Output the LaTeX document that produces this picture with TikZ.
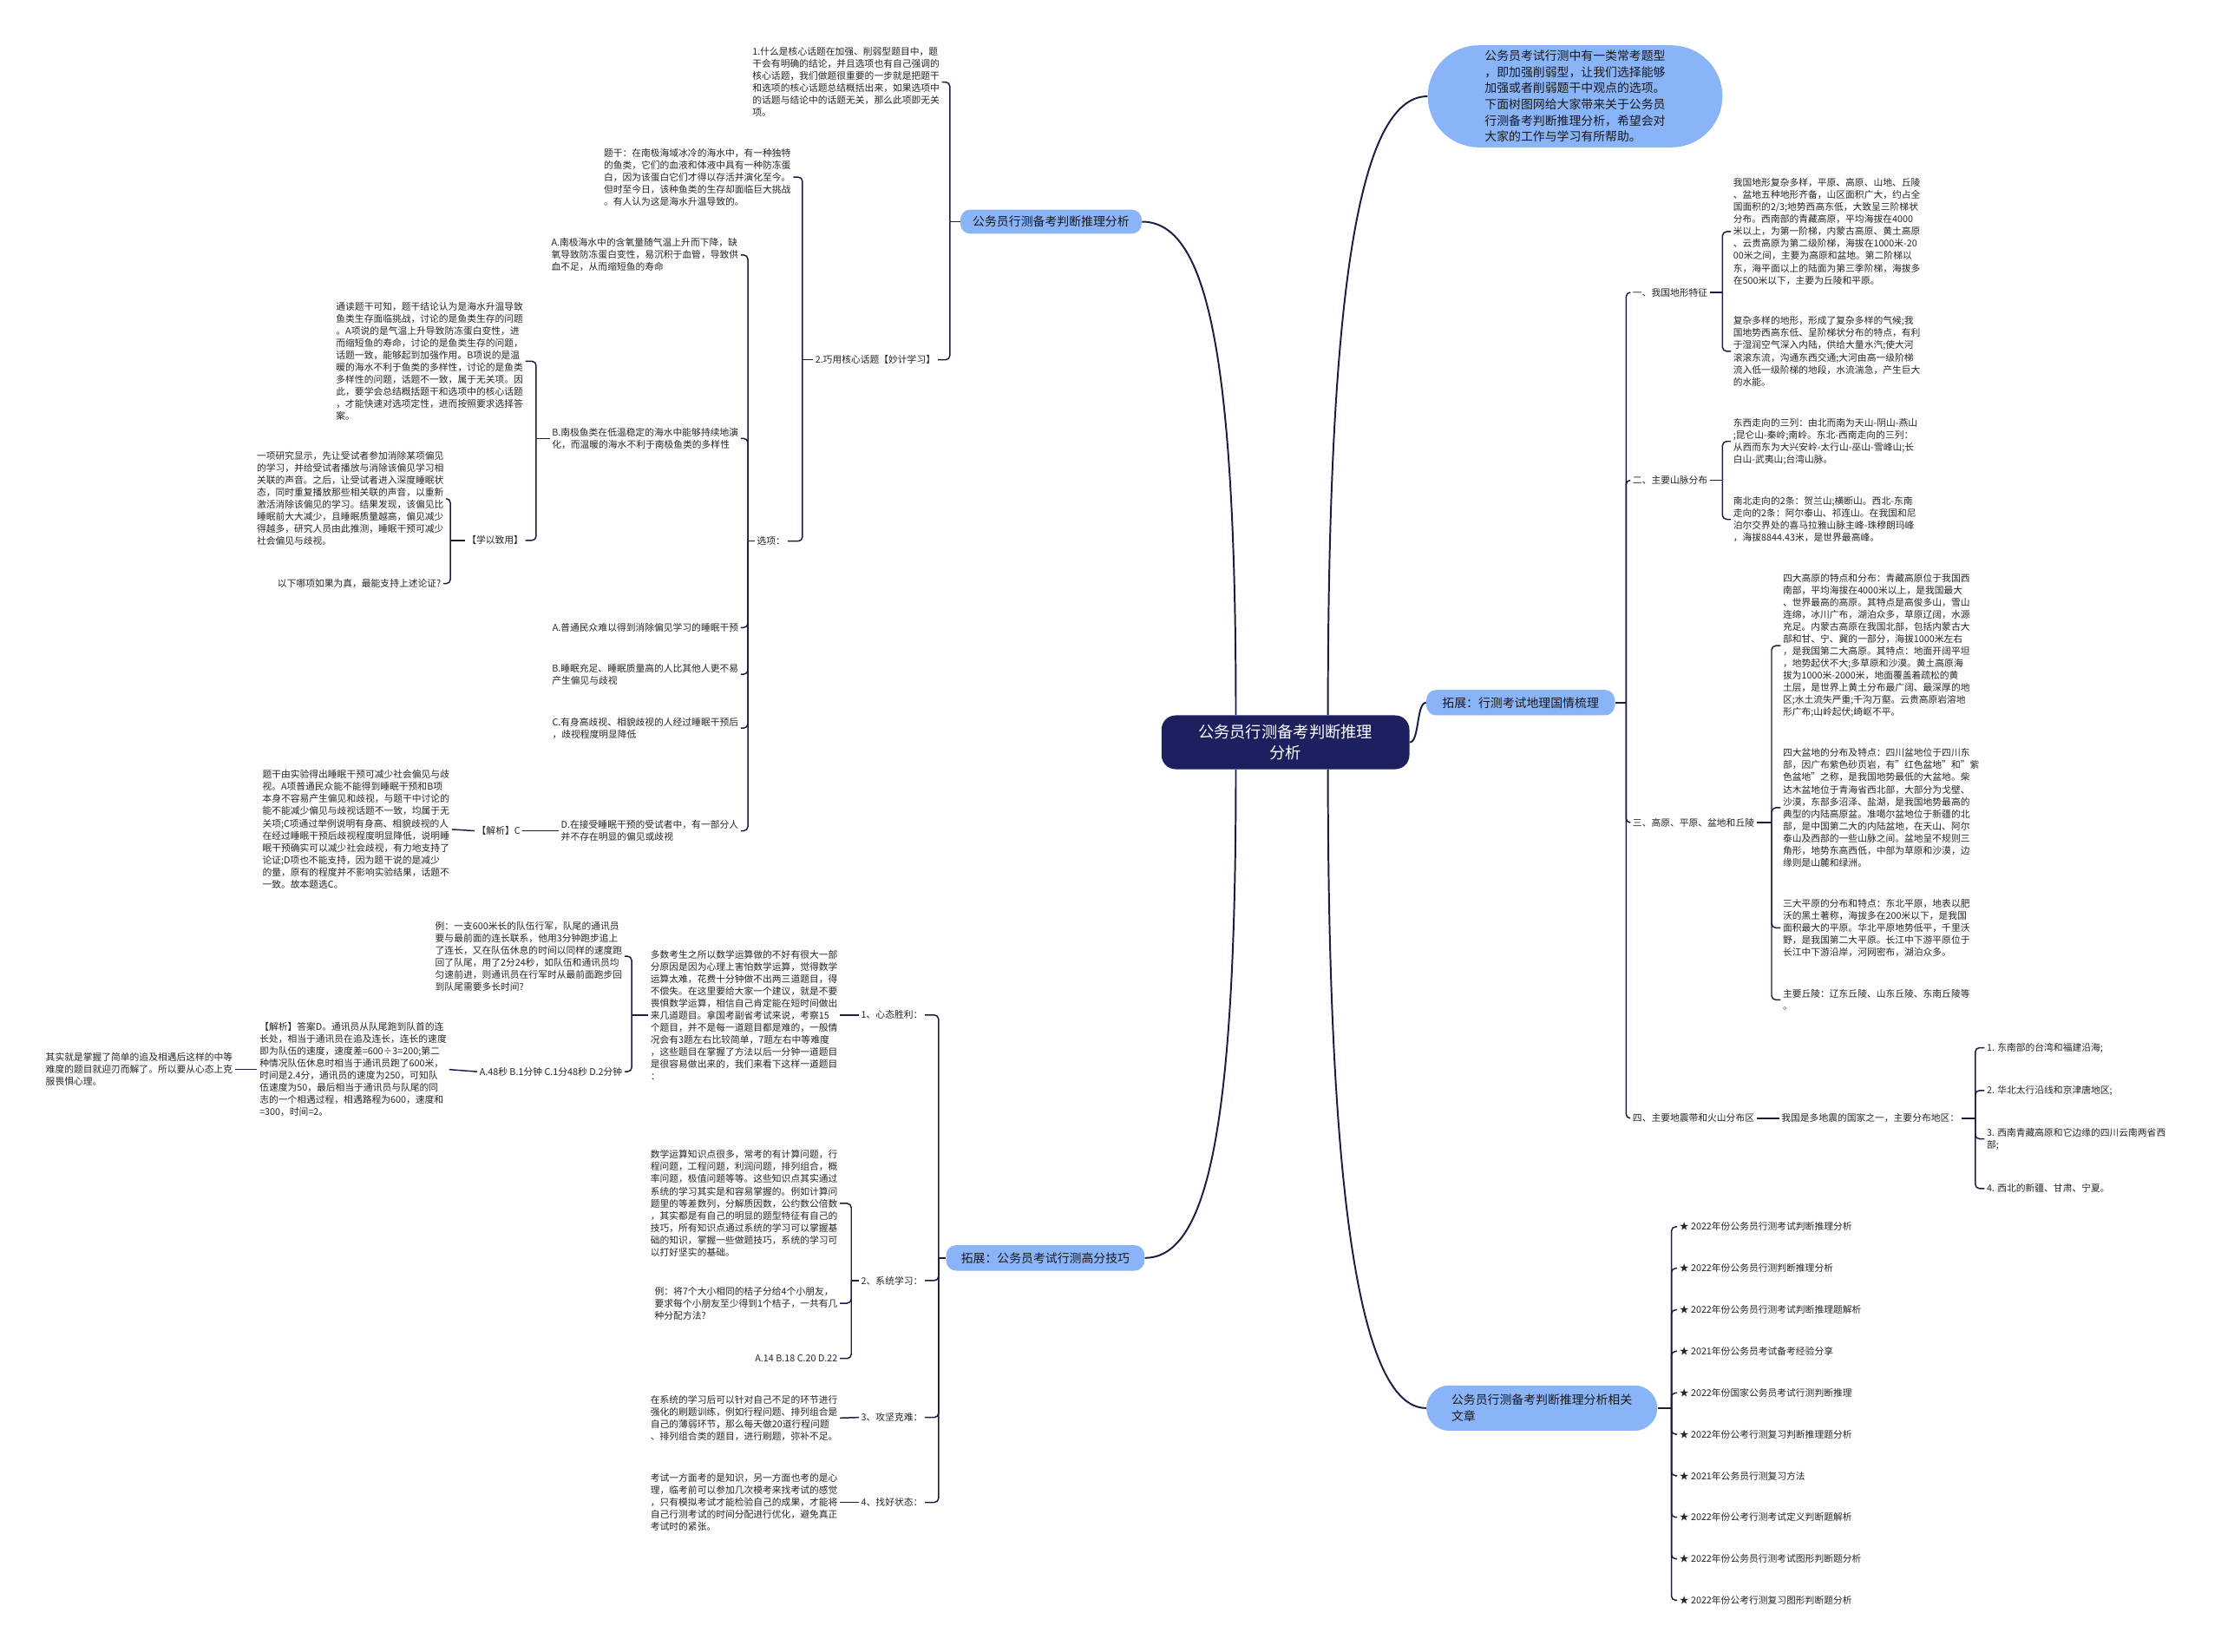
\documentclass[tikz,border=0pt]{standalone}
\usepackage{fontspec}
\setmainfont{Noto Sans CJK SC}
\usepackage{tikz}
\usetikzlibrary{positioning, calc}
\definecolor{mapnavy}{RGB}{28, 32, 94}
\definecolor{mapline}{RGB}{26, 30, 66}
\definecolor{mapblue}{RGB}{138, 180, 248}

\begin{document}
\begin{tikzpicture}[x=1pt, y=-1pt,
  txt/.style={font=\fontsize{6.6}{8.6}\selectfont, align=left, inner sep=1.5pt, text=black!85},
  topic/.style={fill=mapblue, rounded corners=7pt, font=\fontsize{8.5}{11.4}\selectfont, inner sep=0pt, text=black!90},
  link/.style={draw=mapline, line width=0.9pt, rounded corners=3pt},
  trunk/.style={draw=mapline, line width=1.2pt}]
\useasboundingbox[fill=white] (0,0) rectangle (1568,1166);

\node[fill=mapnavy, rounded corners=10pt, text=white, font=\fontsize{11.2}{15}\selectfont, minimum width=175pt, minimum height=38pt, align=center] (root) at (907.5,524)
  {公务员行测备考判断推理\\分析};

\node[topic, minimum width=128pt, minimum height=17pt] (b1) at (742,156.5) {公务员行测备考判断推理分析};
\node[topic, rounded corners=36pt, minimum width=208pt, minimum height=72pt, align=left] (intro) at (1112,68)
  {公务员考试行测中有一类常考题型\\
   ，即加强削弱型，让我们选择能够\\
   加强或者削弱题干中观点的选项。\\
   下面树图网给大家带来关于公务员\\
   行测备考判断推理分析，希望会对\\
   大家的工作与学习有所帮助。};
\node[topic, minimum width=133pt, minimum height=18pt] (b3) at (1073.5,496) {拓展：行测考试地理国情梳理};
\node[topic, minimum width=140pt, minimum height=18pt] (b4) at (738,888) {拓展：公务员考试行测高分技巧};
\node[topic, rounded corners=16pt, minimum width=163pt, minimum height=32pt, align=left] (b5) at (1088.5,994)
  {公务员行测备考判断推理分析相关\\文章};

\draw[trunk] ($(root.north)+(-35,0)$) .. controls +(0,-260) and +(45,0) .. (b1.east);
\draw[trunk] ($(root.north)+(30,0)$) .. controls +(0,-290) and +(-50,0) .. (intro.west);
\draw[trunk] (root.east) .. controls +(7,0) and +(-7,0) .. (b3.west);
\draw[trunk] ($(root.south)+(-35,0)$) .. controls +(0,250) and +(45,0) .. (b4.east);
\draw[trunk] ($(root.south)+(30,0)$) .. controls +(0,280) and +(-50,0) .. (b5.west);

\node[txt, anchor=east] (t1) at (665,58)
  {1.什么是核心话题在加强、削弱型题目中，题\\
   干会有明确的结论，并且选项也有自己强调的\\
   核心话题，我们做题很重要的一步就是把题干\\
   和选项的核心话题总结概括出来，如果选项中\\
   的话题与结论中的话题无关，那么此项即无关\\
   项。};
\node[txt, anchor=east] (t2) at (662,254) {2.巧用核心话题【妙计学习】};
\node[txt, anchor=east] (q1) at (560,125)
  {题干：在南极海域冰冷的海水中，有一种独特\\
   的鱼类，它们的血液和体液中具有一种防冻蛋\\
   白，因为该蛋白它们才得以存活并演化至今。\\
   但时至今日，该种鱼类的生存却面临巨大挑战\\
   。有人认为这是海水升温导致的。};
\node[txt, anchor=east] (opt) at (556,382) {选项：};
\node[txt, anchor=east] (oA) at (523,180)
  {A.南极海水中的含氧量随气温上升而下降，缺\\
   氧导致防冻蛋白变性，易沉积于血管，导致供\\
   血不足，从而缩短鱼的寿命};
\node[txt, anchor=east] (oB) at (523,309.5)
  {B.南极鱼类在低温稳定的海水中能够持续地演\\
   化，而温暖的海水不利于南极鱼类的多样性};
\node[txt, anchor=east] (pA) at (523,443) {A.普通民众难以得到消除偏见学习的睡眠干预};
\node[txt, anchor=east] (pB) at (523,476)
  {B.睡眠充足、睡眠质量高的人比其他人更不易\\
   产生偏见与歧视};
\node[txt, anchor=east] (pC) at (523,514)
  {C.有身高歧视、相貌歧视的人经过睡眠干预后\\
   ，歧视程度明显降低};
\node[txt, anchor=east] (pD) at (523,586.5)
  {D.在接受睡眠干预的受试者中，有一部分人\\
   并不存在明显的偏见或歧视};
\node[txt, anchor=east] (ana1) at (371,255)
  {通读题干可知，题干结论认为是海水升温导致\\
   鱼类生存面临挑战，讨论的是鱼类生存的问题\\
   。A项说的是气温上升导致防冻蛋白变性，进\\
   而缩短鱼的寿命，讨论的是鱼类生存的问题，\\
   话题一致，能够起到加强作用。B项说的是温\\
   暖的海水不利于鱼类的多样性，讨论的是鱼类\\
   多样性的问题，话题不一致，属于无关项。因\\
   此，要学会总结概括题干和选项中的核心话题\\
   ，才能快速对选项定性，进而按照要求选择答\\
   案。};
\node[txt, anchor=east] (apply) at (371,381.5) {【学以致用】};
\node[txt, anchor=east] (study) at (315,352)
  {一项研究显示，先让受试者参加消除某项偏见\\
   的学习，并给受试者播放与消除该偏见学习相\\
   关联的声音。之后，让受试者进入深度睡眠状\\
   态，同时重复播放那些相关联的声音，以重新\\
   激活消除该偏见的学习。结果发现，该偏见比\\
   睡眠前大大减少，且睡眠质量越高，偏见减少\\
   得越多，研究人员由此推测，睡眠干预可减少\\
   社会偏见与歧视。};
\node[txt, anchor=east] (quest) at (313,412) {以下哪项如果为真，最能支持上述论证?};
\node[txt, anchor=east] (jiexiC) at (369,586.5) {【解析】C};
\node[txt, anchor=east] (ana2) at (319,585.5)
  {题干由实验得出睡眠干预可减少社会偏见与歧\\
   视。A项普通民众能不能得到睡眠干预和B项\\
   本身不容易产生偏见和歧视，与题干中讨论的\\
   能不能减少偏见与歧视话题不一致，均属于无\\
   关项;C项通过举例说明有身高、相貌歧视的人\\
   在经过睡眠干预后歧视程度明显降低，说明睡\\
   眠干预确实可以减少社会歧视，有力地支持了\\
   论证;D项也不能支持，因为题干说的是减少\\
   的量，原有的程度并不影响实验结果，话题不\\
   一致。故本题选C。};

\draw[link] (b1.west) -- (670.6,156.5) coordinate (j1);
\foreach \c in {t1,t2} \draw[link] (j1) |- (\c.east);
\draw[link] (t2.west) -- (566.5,254) coordinate (j2);
\foreach \c in {q1,opt} \draw[link] (j2) |- (\c.east);
\draw[link] (opt.west) -- (528,382) coordinate (j3);
\foreach \c in {oA,oB,pA,pB,pC,pD} \draw[link] (j3) |- (\c.east);
\draw[link] (oB.west) -- (378.5,309.5) coordinate (j4);
\foreach \c in {ana1,apply} \draw[link] (j4) |- (\c.east);
\draw[link] (apply.west) -- (318,381.5) coordinate (j5);
\foreach \c in {study,quest} \draw[link] (j5) |- (\c.east);
\draw[link] (pD.west) -- (jiexiC.east);
\draw[link] (jiexiC.west) -- (ana2.east);

\node[txt, anchor=east] (s1) at (653,716.5) {1、心态胜利：};
\node[txt, anchor=east] (s2) at (653,904) {2、系统学习：};
\node[txt, anchor=east] (s3) at (653,1000.6) {3、攻坚克难：};
\node[txt, anchor=east] (s4) at (653,1060.6) {4、找好状态：};
\node[txt, anchor=east] (m1) at (593,716.5)
  {多数考生之所以数学运算做的不好有很大一部\\
   分原因是因为心理上害怕数学运算，觉得数学\\
   运算太难，花费十分钟做不出两三道题目，得\\
   不偿失。在这里要给大家一个建议，就是不要\\
   畏惧数学运算，相信自己肯定能在短时间做出\\
   来几道题目。拿国考副省考试来说，考察15\\
   个题目，并不是每一道题目都是难的，一般情\\
   况会有3题左右比较简单，7题左右中等难度\\
   ，这些题目在掌握了方法以后一分钟一道题目\\
   是很容易做出来的，我们来看下这样一道题目\\
   ：};
\node[txt, anchor=east] (ex1) at (441,675)
  {例：一支600米长的队伍行军，队尾的通讯员\\
   要与最前面的连长联系，他用3分钟跑步追上\\
   了连长，又在队伍休息的时间以同样的速度跑\\
   回了队尾，用了2分24秒，如队伍和通讯员均\\
   匀速前进，则通讯员在行军时从最前面跑步回\\
   到队尾需要多长时间?};
\node[txt, anchor=east] (ch1) at (441,756.5) {A.48秒 B.1分钟 C.1分48秒 D.2分钟};
\node[txt, anchor=east] (ans1) at (317,755)
  {【解析】答案D。通讯员从队尾跑到队首的连\\
   长处，相当于通讯员在追及连长，连长的速度\\
   即为队伍的速度，速度差=600÷3=200;第二\\
   种情况队伍休息时相当于通讯员跑了600米，\\
   时间是2.4分，通讯员的速度为250，可知队\\
   伍速度为50，最后相当于通讯员与队尾的同\\
   志的一个相遇过程，相遇路程为600，速度和\\
   =300，时间=2。};
\node[txt, anchor=east] (con1) at (166,755)
  {其实就是掌握了简单的追及相遇后这样的中等\\
   难度的题目就迎刃而解了。所以要从心态上克\\
   服畏惧心理。};
\node[txt, anchor=east] (k1) at (593,849.5)
  {数学运算知识点很多，常考的有计算问题，行\\
   程问题，工程问题，利润问题，排列组合，概\\
   率问题，极值问题等等。这些知识点其实通过\\
   系统的学习其实是和容易掌握的。例如计算问\\
   题里的等差数列，分解质因数，公约数公倍数\\
   ，其实都是有自己的明显的题型特征有自己的\\
   技巧，所有知识点通过系统的学习可以掌握基\\
   础的知识，掌握一些做题技巧，系统的学习可\\
   以打好坚实的基础。};
\node[txt, anchor=east] (ex2) at (593,920)
  {例：将7个大小相同的桔子分给4个小朋友，\\
   要求每个小朋友至少得到1个桔子，一共有几\\
   种分配方法?};
\node[txt, anchor=east] (ch2) at (593,959) {A.14 B.18 C.20 D.22};
\node[txt, anchor=east] (k3) at (593,1001)
  {在系统的学习后可以针对自己不足的环节进行\\
   强化的刷题训练，例如行程问题、排列组合是\\
   自己的薄弱环节，那么每天做20道行程问题\\
   、排列组合类的题目，进行刷题，弥补不足。};
\node[txt, anchor=east] (k4) at (593,1060.6)
  {考试一方面考的是知识，另一方面也考的是心\\
   理，临考前可以参加几次模考来找考试的感觉\\
   ，只有模拟考试才能检验自己的成果，才能将\\
   自己行测考试的时间分配进行优化，避免真正\\
   考试时的紧张。};

\draw[link] (b4.west) -- (662.6,888) coordinate (j6);
\foreach \c in {s1,s2,s3,s4} \draw[link] (j6) |- (\c.east);
\draw[link] (s1.west) -- (m1.east);
\draw[link] (m1.west) -- (446,716.5) coordinate (j7);
\foreach \c in {ex1,ch1} \draw[link] (j7) |- (\c.east);
\draw[link] (ch1.west) -- (ans1.east);
\draw[link] (ans1.west) -- (con1.east);
\draw[link] (s2.west) -- (601,904) coordinate (j8);
\foreach \c in {k1,ex2,ch2} \draw[link] (j8) |- (\c.east);
\draw[link] (s3.west) -- (k3.east);
\draw[link] (s4.west) -- (k4.east);

\node[txt, anchor=west] (g1) at (1151,206.4) {一、我国地形特征};
\node[txt, anchor=west] (g2) at (1151,339) {二、主要山脉分布};
\node[txt, anchor=west] (g3) at (1151,580.7) {三、高原、平原、盆地和丘陵};
\node[txt, anchor=west] (g4) at (1151,789.4) {四、主要地震带和火山分布区};
\node[txt, anchor=west] (d1) at (1222,163.5)
  {我国地形复杂多样，平原、高原、山地、丘陵\\
   、盆地五种地形齐备，山区面积广大，约占全\\
   国面积的2/3;地势西高东低，大致呈三阶梯状\\
   分布。西南部的青藏高原，平均海拔在4000\\
   米以上，为第一阶梯，内蒙古高原、黄土高原\\
   、云贵高原为第二级阶梯，海拔在1000米-20\\
   00米之间，主要为高原和盆地。第二阶梯以\\
   东，海平面以上的陆面为第三季阶梯，海拔多\\
   在500米以下，主要为丘陵和平原。};
\node[txt, anchor=west] (d2) at (1222,248)
  {复杂多样的地形，形成了复杂多样的气候;我\\
   国地势西高东低、呈阶梯状分布的特点，有利\\
   于湿润空气深入内陆，供给大量水汽;使大河\\
   滚滚东流，沟通东西交通;大河由高一级阶梯\\
   流入低一级阶梯的地段，水流湍急，产生巨大\\
   的水能。};
\node[txt, anchor=west] (m2a) at (1222,311.6)
  {东西走向的三列：由北而南为天山-阴山-燕山\\
   ;昆仑山-秦岭;南岭。东北-西南走向的三列：\\
   从西而东为大兴安岭-太行山-巫山-雪峰山;长\\
   白山-武夷山;台湾山脉。};
\node[txt, anchor=west] (m2b) at (1222,366.6)
  {南北走向的2条：贺兰山;横断山。西北-东南\\
   走向的2条：阿尔泰山、祁连山。在我国和尼\\
   泊尔交界处的喜马拉雅山脉主峰-珠穆朗玛峰\\
   ，海拔8844.43米，是世界最高峰。};
\node[txt, anchor=west] (p1) at (1257,455.8)
  {四大高原的特点和分布：青藏高原位于我国西\\
   南部，平均海拔在4000米以上，是我国最大\\
   、世界最高的高原。其特点是高俊多山，雪山\\
   连绵，冰川广布，湖泊众多，草原辽阔，水源\\
   充足。内蒙古高原在我国北部，包括内蒙古大\\
   部和甘、宁、冀的一部分，海拔1000米左右\\
   ，是我国第二大高原。其特点：地面开阔平坦\\
   ，地势起伏不大;多草原和沙漠。黄土高原海\\
   拔为1000米-2000米，地面覆盖着疏松的黄\\
   土层，是世界上黄土分布最广阔、最深厚的地\\
   区;水土流失严重;千沟万壑。云贵高原岩溶地\\
   形广布;山岭起伏;崎岖不平。};
\node[txt, anchor=west] (p2) at (1257,570.2)
  {四大盆地的分布及特点：四川盆地位于四川东\\
   部，因广布紫色砂页岩，有"红色盆地"和"紫\\
   色盆地"之称，是我国地势最低的大盆地。柴\\
   达木盆地位于青海省西北部，大部分为戈壁、\\
   沙漠，东部多沼泽、盐湖，是我国地势最高的\\
   典型的内陆高原盆。准噶尔盆地位于新疆的北\\
   部，是中国第二大的内陆盆地，在天山、阿尔\\
   泰山及西部的一些山脉之间。盆地呈不规则三\\
   角形，地势东高西低，中部为草原和沙漠，边\\
   缘则是山麓和绿洲。};
\node[txt, anchor=west] (p3) at (1257,655)
  {三大平原的分布和特点：东北平原，地表以肥\\
   沃的黑土著称，海拔多在200米以下，是我国\\
   面积最大的平原。华北平原地势低平，千里沃\\
   野，是我国第二大平原。长江中下游平原位于\\
   长江中下游沿岸，河网密布，湖泊众多。};
\node[txt, anchor=west] (p4) at (1257,705.8)
  {主要丘陵：辽东丘陵、山东丘陵、东南丘陵等\\
   。};
\node[txt, anchor=west] (e1) at (1256,789.4) {我国是多地震的国家之一，主要分布地区：};
\node[txt, anchor=west] (eq1) at (1401,739.6) {1. 东南部的台湾和福建沿海;};
\node[txt, anchor=west] (eq2) at (1401,769.8) {2. 华北太行沿线和京津唐地区;};
\node[txt, anchor=west] (eq3) at (1401,804) {3. 西南青藏高原和它边缘的四川云南两省西\\部;};
\node[txt, anchor=west] (eq4) at (1401,839) {4. 西北的新疆、甘肃、宁夏。};

\draw[link] (b3.east) -- (1148,496) coordinate (j9);
\foreach \c in {g1,g2,g3,g4} \draw[link] (j9) |- (\c.west);
\draw[link] (g1.east) -- (1216,206.4) coordinate (j10);
\foreach \c in {d1,d2} \draw[link] (j10) |- (\c.west);
\draw[link] (g2.east) -- (1216,339) coordinate (j11);
\foreach \c in {m2a,m2b} \draw[link] (j11) |- (\c.west);
\draw[link] (g3.east) -- (1250.7,580.7) coordinate (j12);
\foreach \c in {p1,p2,p3,p4} \draw[link] (j12) |- (\c.west);
\draw[link] (g4.east) -- (e1.west);
\draw[link] (e1.east) -- (1394.5,789.4) coordinate (j13);
\foreach \c in {eq1,eq2,eq3,eq4} \draw[link] (j13) |- (\c.west);

\foreach \t [count=\i] in {2022年份公务员行测考试判断推理分析, 2022年份公务员行测判断推理分析,
  2022年份公务员行测考试判断推理题解析, 2021年份公务员考试备考经验分享,
  2022年份国家公务员考试行测判断推理, 2022年份公考行测复习判断推理题分析,
  2021年公务员行测复习方法, 2022年份公考行测考试定义判断题解析,
  2022年份公务员行测考试图形判断题分析, 2022年份公考行测复习图形判断题分析}
  \node[txt, anchor=west] (r\i) at (1184,{836.7+29.3*\i}) {★ \t};
\draw[link] (b5.east) -- (1180,994) coordinate (j14);
\foreach \i in {1,...,10} \draw[link] (j14) |- (r\i.west);
\end{tikzpicture}
\end{document}
